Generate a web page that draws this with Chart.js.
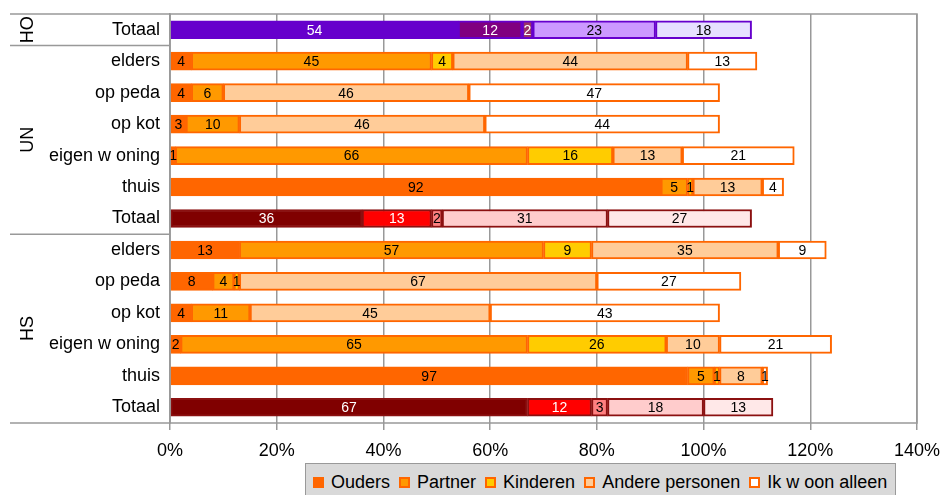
<!DOCTYPE html>
<html>
<head>
<meta charset="utf-8">
<script src="https://cdn.jsdelivr.net/npm/chart.js@4.4.1/dist/chart.umd.min.js"></script>
<style>
  html, body { margin: 0; padding: 0; background: #fff; }
  #wrap { position: relative; width: 942px; height: 495px; overflow: hidden; }
  #legend {
    position: absolute; left: 305px; top: 463px; width: 591px; height: 38px;
    background: #d9d9d9; border: 1.5px solid #999; box-sizing: border-box;
    font: 18px "Liberation Sans", Arial, sans-serif; color: #000;
    display: flex; align-items: center; padding: 0 0 0 7px; white-space: nowrap;
  }
  #legend span.item { display: inline-flex; align-items: center; margin-right: 9px; }
  #legend i { display: inline-block; width: 11px; height: 11px; box-sizing: border-box; border: 2px solid #ff6600; margin-right: 7px; }
</style>
</head>
<body>
<div id="wrap">
  <canvas id="c" width="942" height="495"></canvas>
  <div id="legend"></div>
</div>
<script>
// ── DATA ─────────────────────────────────────────────
const rowLabels = ['Totaal', 'elders', 'op peda', 'op kot', 'eigen w oning', 'thuis', 'Totaal',
                   'elders', 'op peda', 'op kot', 'eigen w oning', 'thuis', 'Totaal'];
const rowKind = ['ho', 'n', 'n', 'n', 'n', 'n', 'tot', 'n', 'n', 'n', 'n', 'n', 'tot'];
const groups = [{ name: 'HO', from: 0, to: 0 }, { name: 'UN', from: 1, to: 6 }, { name: 'HS', from: 7, to: 12 }];

const seriesNames = ['Ouders', 'Partner', 'Kinderen', 'Andere personen', 'Ik w oon alleen'];
const ouders   = [54, 4, 4, 3, 1, 92, 36, 13, 8, 4, 2, 97, 67];
const partner  = [12, 45, 6, 10, 66, 5, 13, 57, 4, 11, 65, 5, 12];
const kinderen = [2, 4, 0, 0, 16, 1, 2, 9, 1, 0, 26, 1, 3];
const andere   = [23, 44, 46, 46, 13, 13, 31, 35, 67, 45, 10, 8, 18];
const alleen   = [18, 13, 47, 44, 21, 4, 27, 9, 27, 43, 21, 1, 13];
const xTicks = [0, 20, 40, 60, 80, 100, 120, 140];

// palettes per row kind
const palette = {
    n:   { fill: ['#ff6600', '#ff9900', '#ffcc00', '#ffcc99', '#ffffff'], border: '#ff6600', text: ['#000', '#000', '#000', '#000', '#000'] },
    ho:  { fill: ['#6600cc', '#800080', '#993366', '#cc99ff', '#e6e0ff'], border: '#6600cc', text: ['#fff', '#fff', '#fff', '#000', '#000'] },
    tot: { fill: ['#800000', '#ff0000', '#ff8080', '#ffcccc', '#ffe8e8'], border: '#8b1010', text: ['#fff', '#fff', '#000', '#000', '#000'] }
};

const FONT = '"Liberation Sans", Arial, sans-serif';
const allSeries = [ouders, partner, kinderen, andere, alleen];

const datasets = allSeries.map((vals, s) => ({
    label: seriesNames[s],
    data: vals,
    backgroundColor: rowKind.map(k => palette[k].fill[s]),
    borderColor: rowKind.map(k => palette[k].border),
    borderWidth: 2,
    borderSkipped: false,
    barThickness: 18
}));

// ── PLUGINS ──────────────────────────────────────────
const valueLabels = {
    id: 'valueLabels',
    afterDatasetsDraw(chart) {
        const ctx = chart.ctx;
        ctx.save();
        ctx.font = '14px ' + FONT;
        ctx.textAlign = 'center';
        ctx.textBaseline = 'middle';
        chart.data.datasets.forEach((ds, s) => {
            chart.getDatasetMeta(s).data.forEach((el, i) => {
                const v = ds.data[i];
                if (!v) return;
                const p = el.getCenterPoint();
                ctx.fillStyle = palette[rowKind[i]].text[s];
                ctx.fillText(String(v), p.x, p.y + 1);
            });
        });
        ctx.restore();
    }
};

const frame = {
    id: 'frame',
    afterDraw(chart) {
        const { ctx, chartArea: a, scales } = chart;
        const y = scales.y;
        const half = (y.getPixelForValue(1) - y.getPixelForValue(0)) / 2;
        ctx.save();
        ctx.strokeStyle = '#999';
        ctx.lineWidth = 1.5;
        ctx.strokeRect(a.left, a.top, a.right - a.left, a.bottom - a.top);
        // group separators in the label column
        const seps = [a.top, y.getPixelForValue(0) + half, y.getPixelForValue(6) + half, a.bottom];
        seps.forEach(py => {
            ctx.beginPath();
            ctx.moveTo(10, py);
            ctx.lineTo(a.left, py);
            ctx.stroke();
        });
        // rotated group names
        ctx.fillStyle = '#000';
        ctx.font = '18px ' + FONT;
        ctx.textAlign = 'center';
        ctx.textBaseline = 'middle';
        groups.forEach(g => {
            const cy = (y.getPixelForValue(g.from) + y.getPixelForValue(g.to)) / 2;
            ctx.save();
            ctx.translate(28, cy);
            ctx.rotate(-Math.PI / 2);
            ctx.fillText(g.name, 0, 0);
            ctx.restore();
        });
        ctx.restore();
    }
};

// ── CHART ────────────────────────────────────────────
new Chart(document.getElementById('c'), {
    type: 'bar',
    data: { labels: rowLabels, datasets: datasets },
    options: {
        indexAxis: 'y',
        responsive: false,
        animation: false,
        layout: { padding: { top: 14, right: 25, left: 0, bottom: 0 } },
        plugins: { legend: { display: false }, tooltip: { enabled: false } },
        scales: {
            x: {
                stacked: true,
                min: 0, max: 140,
                afterBuildTicks: (scale) => { scale.ticks = xTicks.map(v => ({ value: v })); },
                afterFit: (scale) => { scale.height = 72; scale.paddingLeft = 0; scale.paddingRight = 0; },
                grid: { color: '#999', lineWidth: 1.5, tickLength: 7, drawTicks: true },
                border: { display: false },
                ticks: { color: '#000', font: { size: 18, family: FONT }, padding: 10, callback: v => v + '%' }
            },
            y: {
                stacked: true,
                afterFit: (scale) => { scale.width = 170; scale.paddingTop = 0; scale.paddingBottom = 0; },
                grid: { display: false },
                border: { display: true, color: '#999', width: 1.5 },
                ticks: { color: '#000', font: { size: 18, family: FONT }, padding: 2, autoSkip: false }
            }
        }
    },
    plugins: [valueLabels, frame]
});

// ── LEGEND ───────────────────────────────────────────
const legendEl = document.getElementById('legend');
seriesNames.forEach((name, s) => {
    const item = document.createElement('span');
    item.className = 'item';
    item.innerHTML = `<i style="background:${palette.n.fill[s]}"></i>${name}`;
    legendEl.appendChild(item);
});
</script>
</body>
</html>
